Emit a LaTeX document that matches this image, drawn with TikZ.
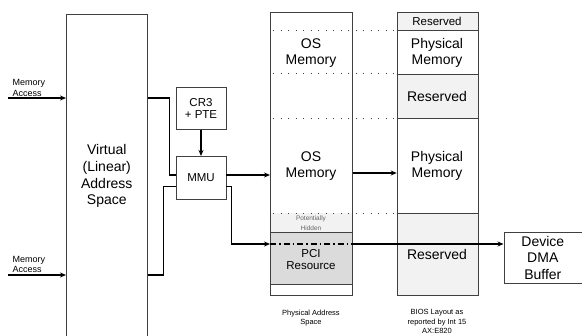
\documentclass[tikz,border=0pt]{standalone}
\usepackage{fontspec}
\setmainfont{Liberation Sans}
\usetikzlibrary{arrows.meta}
\begin{document}
\begin{tikzpicture}[x=1pt, y=-1pt,
  box/.style={draw=black!75, line width=0.6pt, align=center, inner sep=0pt},
  big/.style={font=\fontsize{14}{16.7}\selectfont, align=center},
  mid/.style={font=\fontsize{11.5}{11.7}\selectfont, align=center},
  small/.style={font=\fontsize{9}{10.5}\selectfont, align=left},
  caption/.style={font=\fontsize{7.5}{9.5}\selectfont, align=center},
  wire/.style={line width=1.5pt},
  arr/.style={wire, -{Stealth[length=6pt, width=5pt]}},
  dots/.style={line width=1pt, black!75, dash pattern=on 1pt off 6.5pt}]
\useasboundingbox (0,0) rectangle (582,336);
\clip (0,0) rectangle (582,336);
% levels of the wires
\coordinate (lvA) at (0,175);
\coordinate (lvB) at (0,186.7);
\coordinate (lvC) at (0,244);
\coordinate (lvD) at (0,173);
% virtual address space
\node[box, big, minimum width=81, minimum height=324, anchor=north west] (virt) at (66,14) {Virtual\\(Linear)\\Address\\Space};
\node[small, anchor=west] (ma1) at (9,88) {Memory\\Access};
\node[small, anchor=west] (ma2) at (9,264.5) {Memory\\Access};
\coordinate (in1) at (8,98);
\coordinate (in2) at (8,275);
\draw[arr] (in1) -- (in1 -| virt.west);
\draw[arr] (in2) -- (in2 -| virt.west);
% mmu
\node[box, mid, minimum width=50, minimum height=42.6, anchor=north west] (cr3) at (175.7,86.7) {CR3\\+ PTE};
\node[box, mid, minimum width=50, minimum height=43, anchor=north west] (mmu) at (175.7,156) {MMU};
\draw[arr] (cr3) -- (mmu);
\draw[wire] (virt.east |- in1) -| (169.3,175) -- (mmu.west |- lvA);
\draw[wire] (virt.east |- in2) -| (163.3,186.7) -- (mmu.west |- lvB);
% physical address space
\fill[black!5] (270,213.3) rectangle (352,232);
\fill[black!14] (270,232) rectangle (352,284);
\draw[black!75, line width=0.6pt] (270,232) -- (352,232);
\draw[black!75, line width=0.6pt] (270,284) -- (352,284);
\node[box, minimum width=82, minimum height=283, anchor=north west] (phys) at (270,12) {};
\node[big] (os1) at (311,53) {OS\\Memory};
\node[big] (os2) at (311,166) {OS\\Memory};
\node[font=\fontsize{6.5}{9.5}\selectfont, black!60, align=center] (hid) at (311,223) {Potentially\\Hidden};
\node[font=\fontsize{11.5}{12}\selectfont, align=center] (pci) at (311,260) {PCI\\Resource};
\node[caption] (physcap) at (311,318) {Physical Address\\Space};
% bios layout
\fill[black!5] (396.7,11.7) rectangle (477.7,30.7);
\fill[black!5] (396.7,74) rectangle (477.7,118.3);
\fill[black!5] (396.7,213.3) rectangle (477.7,295);
\node[box, minimum width=81, minimum height=283.3, anchor=north west] (bios) at (396.7,11.7) {};
\draw[black!75, line width=0.6pt] (bios.west |- 0,30.7) -- (bios.east |- 0,30.7);
\draw[black!75, line width=0.6pt] (bios.west |- 0,74) -- (bios.east |- 0,74);
\draw[black!75, line width=0.6pt] (bios.west |- 0,118.3) -- (bios.east |- 0,118.3);
\draw[black!75, line width=0.6pt] (bios.west |- 0,213.3) -- (bios.east |- 0,213.3);
\node[mid] (res1) at (437,21.5) {Reserved};
\node[big] (pm1) at (437,53) {Physical\\Memory};
\node[big] (res2) at (437,96.5) {Reserved};
\node[big] (pm2) at (437,166) {Physical\\Memory};
\node[big] (res3) at (437,254) {Reserved};
\node[caption] (bioscap) at (437,321.5) {BIOS Layout as\\reported by Int 15\\AX:E820};
% dotted boundaries
\draw[dots] (273,30.7) -- (bios.west |- 0,30.7);
\draw[dots] (273,74) -- (bios.west |- 0,74);
\draw[dots] (273,118.3) -- (bios.west |- 0,118.3);
\draw[dots] (273,213.3) -- (bios.west |- 0,213.3);
% device buffer
\node[box, big, minimum width=78, minimum height=51.6, anchor=north west] (dma) at (503.5,231.7) {Device\\DMA\\Buffer};
% mmu outputs
\draw[arr] (mmu.east |- lvA) -- (phys.west |- lvA);
\draw[arr] (mmu.east |- lvB) -| (231.7,244) -- (phys.west |- lvC);
\draw[line width=1.3pt, dash pattern=on 6pt off 3pt on 1.5pt off 3pt] (phys.west |- lvC) -- (phys.east |- lvC);
\draw[arr] (phys.east |- lvC) -- (dma.west |- lvC);
\draw[arr] (phys.east |- lvD) -- (bios.west |- lvD);
\end{tikzpicture}
\end{document}
